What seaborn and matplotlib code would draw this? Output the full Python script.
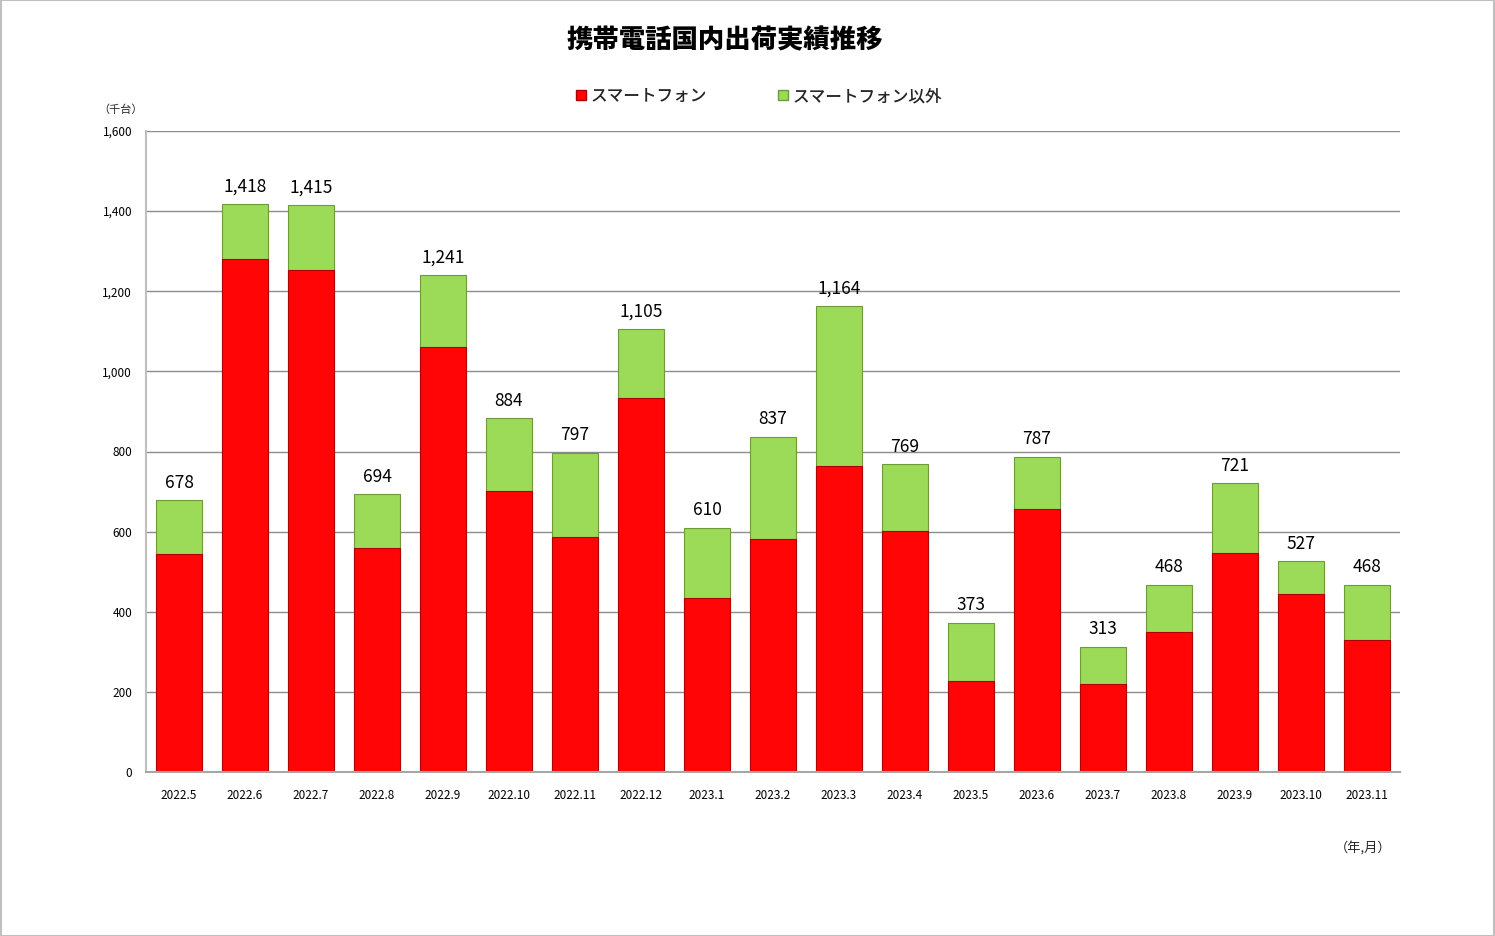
import matplotlib
matplotlib.use("Agg")
import matplotlib.pyplot as plt
import seaborn as sns
import pandas as pd
from matplotlib.patches import Patch, Rectangle

months = ["2022.5", "2022.6", "2022.7", "2022.8", "2022.9", "2022.10", "2022.11",
          "2022.12", "2023.1", "2023.2", "2023.3", "2023.4", "2023.5", "2023.6",
          "2023.7", "2023.8", "2023.9", "2023.10", "2023.11"]
smartphone = [544, 1280, 1253, 560, 1060, 701, 587, 934, 435, 582, 765, 602,
              227, 656, 220, 350, 547, 445, 330]
other = [134, 138, 162, 134, 181, 183, 210, 171, 175, 255, 399, 167,
         146, 131, 93, 118, 174, 82, 138]
y_ticks = [0, 200, 400, 600, 800, 1000, 1200, 1400, 1600]

title = "携帯電話国内出荷実績推移"
series_names = ["スマートフォン", "スマートフォン以外"]

sns.set_theme(style="white")
plt.rcParams["font.family"] = ["Noto Sans CJK JP", "DejaVu Sans"]

df = pd.DataFrame({"month": months, "smart": smartphone, "other": other})
df["total"] = df["smart"] + df["other"]

W, H = 1495, 936
fig = plt.figure(figsize=(W / 100, H / 100), dpi=100)
ax = fig.add_axes([146 / W, (H - 772) / H, 1254 / W, 641 / H])

red = "#FF0505"
green = "#9BDB57"

sns.barplot(data=df, x="month", y="total", color=green, width=0.71,
            edgecolor="#6E9A3A", linewidth=0.8, saturation=1, ax=ax)
sns.barplot(data=df, x="month", y="smart", color=red, width=0.71,
            edgecolor="#B00000", linewidth=0.8, saturation=1, ax=ax)

ax.bar_label(ax.containers[0], labels=[f"{v:,}" for v in df["total"]],
             padding=6, fontsize=12.5, color="black")

ax.set_ylim(0, 1600)
ax.set_xlim(-0.5, len(months) - 0.5)
ax.set_yticks(y_ticks)
ax.set_yticklabels([f"{v:,}" for v in y_ticks], fontsize=8.5)
ax.tick_params(axis="x", labelsize=8.5, pad=12, length=0, colors="black")
ax.tick_params(axis="y", length=0, pad=10, colors="black")
ax.set_xlabel("")
ax.set_ylabel("")
ax.yaxis.grid(True, color="#8C8C8C", linewidth=1)
ax.set_axisbelow(True)
for s in ["top", "right"]:
    ax.spines[s].set_visible(False)
ax.spines["left"].set_color("#BFBFBF")
ax.spines["left"].set_linewidth(1.5)
ax.spines["bottom"].set_color("#A6A6A6")
ax.spines["bottom"].set_linewidth(1.5)

fig.text(725 / W, 1 - 40 / H, title, ha="center", va="center",
         fontsize=19, fontweight="heavy", color="black")
handles = [Patch(facecolor=red, edgecolor="#B00000"),
           Patch(facecolor=green, edgecolor="#6E9A3A")]
fig.legend(handles, series_names, loc="center", bbox_to_anchor=(759 / W, 1 - 96 / H),
           ncol=2, frameon=False, handlelength=0.6, handleheight=0.6,
           handletextpad=0.25, columnspacing=4.3,
           prop={"size": 12, "weight": "medium"})
fig.text(121 / W, 1 - 110 / H, "（千台）", ha="center", va="center", fontsize=8)
fig.text(1363 / W, 1 - 848 / H, "（年,月）", ha="center", va="center", fontsize=9.5)

fig.patches.append(Rectangle((0.0005, 0.0005), 0.999, 0.999, transform=fig.transFigure,
                             fill=False, edgecolor="#BFBFBF", linewidth=1.5))

fig.savefig("out.png", dpi=100)
